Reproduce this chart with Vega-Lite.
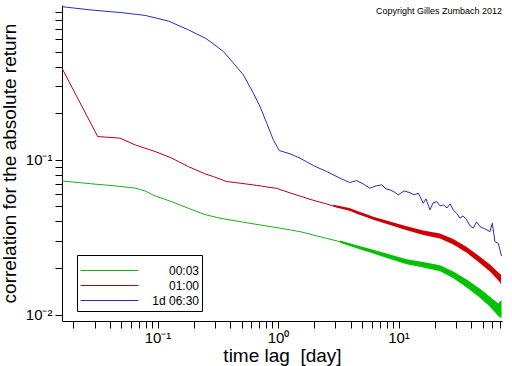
{
  "$schema": "https://vega.github.io/schema/vega-lite/v6.json",
  "autosize": "none",
  "padding": {"left": 62, "top": 5, "right": 10, "bottom": 45},
  "width": 440,
  "height": 316,
  "background": "white",
  "config": {
    "view": {"stroke": null},
    "font": "Liberation Sans",
    "axis": {"grid": false, "domainColor": "black", "tickColor": "black", "tickSize": 7, "labelColor": "black", "titleColor": "black", "labelFont": "Liberation Sans", "titleFont": "Liberation Sans", "labelFontSize": 15, "titleFontSize": 19, "titleFontWeight": "normal", "labelOverlap": false, "labelFlush": false}
  },
  "title": {"text": "Copyright Gilles Zumbach 2012", "anchor": "end", "frame": "group", "orient": "top", "offset": -11, "fontSize": 9, "font": "Liberation Sans", "fontWeight": "normal", "color": "black"},
  "datasets": {
    "curves": [
      {"series": "1d 06:30", "lag": 0.01612, "corr": 0.975},
      {"series": "1d 06:30", "lag": 0.02844, "corr": 0.928},
      {"series": "1d 06:30", "lag": 0.0505, "corr": 0.892},
      {"series": "1d 06:30", "lag": 0.0788, "corr": 0.857},
      {"series": "1d 06:30", "lag": 0.123, "corr": 0.788},
      {"series": "1d 06:30", "lag": 0.180, "corr": 0.692},
      {"series": "1d 06:30", "lag": 0.248, "corr": 0.612},
      {"series": "1d 06:30", "lag": 0.273, "corr": 0.582},
      {"series": "1d 06:30", "lag": 0.352, "corr": 0.501},
      {"series": "1d 06:30", "lag": 0.426, "corr": 0.422},
      {"series": "1d 06:30", "lag": 0.515, "corr": 0.354},
      {"series": "1d 06:30", "lag": 0.624, "corr": 0.270},
      {"series": "1d 06:30", "lag": 0.709, "corr": 0.221},
      {"series": "1d 06:30", "lag": 0.806, "corr": 0.1726},
      {"series": "1d 06:30", "lag": 0.914, "corr": 0.1347},
      {"series": "1d 06:30", "lag": 1.025, "corr": 0.1148},
      {"series": "1d 06:30", "lag": 1.258, "corr": 0.1094},
      {"series": "1d 06:30", "lag": 1.522, "corr": 0.1026},
      {"series": "1d 06:30", "lag": 1.963, "corr": 0.0919},
      {"series": "1d 06:30", "lag": 2.536, "corr": 0.0840},
      {"series": "1d 06:30", "lag": 3.27, "corr": 0.0762},
      {"series": "1d 06:30", "lag": 3.94, "corr": 0.0713},
      {"series": "1d 06:30", "lag": 4.50, "corr": 0.0735},
      {"series": "1d 06:30", "lag": 5.08, "corr": 0.0700},
      {"series": "1d 06:30", "lag": 5.80, "corr": 0.0656},
      {"series": "1d 06:30", "lag": 6.51, "corr": 0.0679},
      {"series": "1d 06:30", "lag": 7.25, "corr": 0.0689},
      {"series": "1d 06:30", "lag": 7.88, "corr": 0.0649},
      {"series": "1d 06:30", "lag": 8.50, "corr": 0.0640},
      {"series": "1d 06:30", "lag": 9.18, "corr": 0.0621},
      {"series": "1d 06:30", "lag": 9.96, "corr": 0.0594},
      {"series": "1d 06:30", "lag": 11.10, "corr": 0.0630},
      {"series": "1d 06:30", "lag": 12.46, "corr": 0.0614},
      {"series": "1d 06:30", "lag": 13.45, "corr": 0.0594},
      {"series": "1d 06:30", "lag": 14.60, "corr": 0.0609},
      {"series": "1d 06:30", "lag": 16.06, "corr": 0.0525},
      {"series": "1d 06:30", "lag": 16.91, "corr": 0.0560},
      {"series": "1d 06:30", "lag": 18.26, "corr": 0.0475},
      {"series": "1d 06:30", "lag": 19.33, "corr": 0.0527},
      {"series": "1d 06:30", "lag": 20.75, "corr": 0.0537},
      {"series": "1d 06:30", "lag": 22.10, "corr": 0.0504},
      {"series": "1d 06:30", "lag": 23.54, "corr": 0.0512},
      {"series": "1d 06:30", "lag": 25.27, "corr": 0.0489},
      {"series": "1d 06:30", "lag": 26.76, "corr": 0.0519},
      {"series": "1d 06:30", "lag": 28.50, "corr": 0.0475},
      {"series": "1d 06:30", "lag": 30.59, "corr": 0.0448},
      {"series": "1d 06:30", "lag": 32.38, "corr": 0.0420},
      {"series": "1d 06:30", "lag": 34.30, "corr": 0.0435},
      {"series": "1d 06:30", "lag": 36.81, "corr": 0.0409},
      {"series": "1d 06:30", "lag": 39.21, "corr": 0.0375},
      {"series": "1d 06:30", "lag": 41.76, "corr": 0.0362},
      {"series": "1d 06:30", "lag": 44.40, "corr": 0.0397},
      {"series": "1d 06:30", "lag": 47.47, "corr": 0.0371},
      {"series": "1d 06:30", "lag": 52.21, "corr": 0.0358},
      {"series": "1d 06:30", "lag": 57.44, "corr": 0.0344},
      {"series": "1d 06:30", "lag": 60.02, "corr": 0.0390},
      {"series": "1d 06:30", "lag": 63.2, "corr": 0.0296},
      {"series": "1d 06:30", "lag": 67.3, "corr": 0.0289},
      {"series": "1d 06:30", "lag": 71.6, "corr": 0.0239},

      {"series": "01:00", "lag": 0.01612, "corr": 0.3905},
      {"series": "01:00", "lag": 0.0319, "corr": 0.1414},
      {"series": "01:00", "lag": 0.04886, "corr": 0.1381},
      {"series": "01:00", "lag": 0.0651, "corr": 0.1250},
      {"series": "01:00", "lag": 0.0954, "corr": 0.1132},
      {"series": "01:00", "lag": 0.1312, "corr": 0.1026},
      {"series": "01:00", "lag": 0.180, "corr": 0.0905},
      {"series": "01:00", "lag": 0.248, "corr": 0.0812},
      {"series": "01:00", "lag": 0.2904, "corr": 0.0780},
      {"series": "01:00", "lag": 0.3753, "corr": 0.0724},
      {"series": "01:00", "lag": 0.4838, "corr": 0.0707},
      {"series": "01:00", "lag": 0.6656, "corr": 0.0684},
      {"series": "01:00", "lag": 0.9754, "corr": 0.0654},
      {"series": "01:00", "lag": 1.258, "corr": 0.0612},
      {"series": "01:00", "lag": 1.844, "corr": 0.0556},
      {"series": "01:00", "lag": 2.877, "corr": 0.0504},
      {"series": "01:00", "lag": 3.906, "corr": 0.0479},
      {"series": "01:00", "lag": 4.50, "corr": 0.0452},
      {"series": "01:00", "lag": 6.18, "corr": 0.0420},
      {"series": "01:00", "lag": 8.50, "corr": 0.0390},
      {"series": "01:00", "lag": 11.70, "corr": 0.0362},
      {"series": "01:00", "lag": 16.06, "corr": 0.0339},
      {"series": "01:00", "lag": 22.10, "corr": 0.0323},
      {"series": "01:00", "lag": 28.50, "corr": 0.0296},
      {"series": "01:00", "lag": 36.81, "corr": 0.0262},
      {"series": "01:00", "lag": 47.47, "corr": 0.0226},
      {"series": "01:00", "lag": 57.44, "corr": 0.0200},
      {"series": "01:00", "lag": 69.55, "corr": 0.0172},
      {"series": "01:00", "lag": 70.9, "corr": 0.0168},

      {"series": "00:03", "lag": 0.01612, "corr": 0.0731},
      {"series": "00:03", "lag": 0.02844, "corr": 0.0700},
      {"series": "00:03", "lag": 0.0444, "corr": 0.0679},
      {"series": "00:03", "lag": 0.0651, "corr": 0.0657},
      {"series": "00:03", "lag": 0.0788, "corr": 0.0630},
      {"series": "00:03", "lag": 0.0954, "corr": 0.0585},
      {"series": "00:03", "lag": 0.1312, "corr": 0.0537},
      {"series": "00:03", "lag": 0.180, "corr": 0.0487},
      {"series": "00:03", "lag": 0.248, "corr": 0.0443},
      {"series": "00:03", "lag": 0.3302, "corr": 0.0420},
      {"series": "00:03", "lag": 0.4838, "corr": 0.0399},
      {"series": "00:03", "lag": 0.709, "corr": 0.0380},
      {"series": "00:03", "lag": 1.039, "corr": 0.0362},
      {"series": "00:03", "lag": 1.522, "corr": 0.0344},
      {"series": "00:03", "lag": 2.231, "corr": 0.0319},
      {"series": "00:03", "lag": 3.27, "corr": 0.0296},
      {"series": "00:03", "lag": 4.50, "corr": 0.0275},
      {"series": "00:03", "lag": 6.18, "corr": 0.0255},
      {"series": "00:03", "lag": 8.50, "corr": 0.0237},
      {"series": "00:03", "lag": 11.70, "corr": 0.0220},
      {"series": "00:03", "lag": 16.06, "corr": 0.0210},
      {"series": "00:03", "lag": 22.10, "corr": 0.0200},
      {"series": "00:03", "lag": 28.50, "corr": 0.0181},
      {"series": "00:03", "lag": 36.81, "corr": 0.01596},
      {"series": "00:03", "lag": 47.47, "corr": 0.01375},
      {"series": "00:03", "lag": 57.44, "corr": 0.01213},
      {"series": "00:03", "lag": 67.3, "corr": 0.01072},
      {"series": "00:03", "lag": 71.6, "corr": 0.01026}
    ],
    "bands": [
      {"series": "01:00", "lag": 2.877, "lo": 0.0497, "hi": 0.0512},
      {"series": "01:00", "lag": 3.906, "lo": 0.0470, "hi": 0.0488},
      {"series": "01:00", "lag": 6.18, "lo": 0.0411, "hi": 0.0429},
      {"series": "01:00", "lag": 8.50, "lo": 0.0380, "hi": 0.0400},
      {"series": "01:00", "lag": 11.70, "lo": 0.0351, "hi": 0.0373},
      {"series": "01:00", "lag": 16.06, "lo": 0.0327, "hi": 0.0350},
      {"series": "01:00", "lag": 22.10, "lo": 0.0311, "hi": 0.0335},
      {"series": "01:00", "lag": 28.50, "lo": 0.0284, "hi": 0.0308},
      {"series": "01:00", "lag": 36.81, "lo": 0.0251, "hi": 0.0274},
      {"series": "01:00", "lag": 47.47, "lo": 0.0215, "hi": 0.0237},
      {"series": "01:00", "lag": 57.44, "lo": 0.0190, "hi": 0.0211},
      {"series": "01:00", "lag": 69.55, "lo": 0.0162, "hi": 0.0183},
      {"series": "01:00", "lag": 70.9, "lo": 0.0156, "hi": 0.0181},
      {"series": "00:03", "lag": 3.27, "lo": 0.0292, "hi": 0.0301},
      {"series": "00:03", "lag": 4.50, "lo": 0.0269, "hi": 0.0281},
      {"series": "00:03", "lag": 6.18, "lo": 0.0248, "hi": 0.0263},
      {"series": "00:03", "lag": 8.50, "lo": 0.0229, "hi": 0.0245},
      {"series": "00:03", "lag": 11.70, "lo": 0.0212, "hi": 0.0228},
      {"series": "00:03", "lag": 16.06, "lo": 0.0202, "hi": 0.0219},
      {"series": "00:03", "lag": 22.10, "lo": 0.0191, "hi": 0.0209},
      {"series": "00:03", "lag": 28.50, "lo": 0.0172, "hi": 0.0190},
      {"series": "00:03", "lag": 36.81, "lo": 0.0150, "hi": 0.0169},
      {"series": "00:03", "lag": 47.47, "lo": 0.01286, "hi": 0.0147},
      {"series": "00:03", "lag": 57.44, "lo": 0.01126, "hi": 0.01307},
      {"series": "00:03", "lag": 67.3, "lo": 0.0098, "hi": 0.0118},
      {"series": "00:03", "lag": 71.6, "lo": 0.0095, "hi": 0.0125}
    ]
  },
  "encoding": {
    "x": {"field": "lag", "type": "quantitative", "scale": {"type": "log", "domain": [0.01612, 72.26], "nice": false},
      "axis": {"title": "time lag \u00a0[day]", "titlePadding": 1, "labelPadding": 2,
        "values": [0.02,0.03,0.04,0.05,0.06,0.07,0.08,0.09,0.1,0.2,0.3,0.4,0.5,0.6,0.7,0.8,0.9,1,2,3,4,5,6,7,8,9,10,20,30,40,50,60,70],
        "labelExpr": "datum.value == 0.1 ? '10⁻¹' : datum.value == 1 ? '10⁰' : datum.value == 10 ? '10¹' : ''"}}
  },
  "layer": [
    {
      "data": {"name": "bands"},
      "transform": [{"filter": "datum.series == '00:03'"}],
      "mark": {"type": "area", "clip": true, "color": "#00c400"},
      "encoding": {
        "y": {"field": "lo", "type": "quantitative", "scale": {"type": "log", "domain": [0.009106, 1], "nice": false},
          "axis": {"title": "correlation for the absolute return", "titlePadding": 6, "labelPadding": 3,
            "values": [0.01,0.02,0.03,0.04,0.05,0.06,0.07,0.08,0.09,0.1,0.2,0.3,0.4,0.5,0.6,0.7,0.8,0.9],
            "labelExpr": "datum.value == 0.1 ? '10⁻¹' : datum.value == 0.01 ? '10⁻²' : ''"}},
        "y2": {"field": "hi"}
      }
    },
    {
      "data": {"name": "bands"},
      "transform": [{"filter": "datum.series == '01:00'"}],
      "mark": {"type": "area", "clip": true, "color": "#d40000"},
      "encoding": {
        "y": {"field": "lo", "type": "quantitative", "scale": {"type": "log", "domain": [0.009106, 1], "nice": false},
          "axis": {"title": "correlation for the absolute return", "titlePadding": 6, "labelPadding": 3,
            "values": [0.01,0.02,0.03,0.04,0.05,0.06,0.07,0.08,0.09,0.1,0.2,0.3,0.4,0.5,0.6,0.7,0.8,0.9],
            "labelExpr": "datum.value == 0.1 ? '10⁻¹' : datum.value == 0.01 ? '10⁻²' : ''"}},
        "y2": {"field": "hi"}
      }
    },
    {
      "data": {"name": "curves"},
      "mark": {"type": "line", "clip": true, "strokeWidth": 1},
      "encoding": {
        "y": {"field": "corr", "type": "quantitative", "scale": {"type": "log", "domain": [0.009106, 1], "nice": false},
          "axis": {"title": "correlation for the absolute return", "titlePadding": 6, "labelPadding": 3,
            "values": [0.01,0.02,0.03,0.04,0.05,0.06,0.07,0.08,0.09,0.1,0.2,0.3,0.4,0.5,0.6,0.7,0.8,0.9],
            "labelExpr": "datum.value == 0.1 ? '10⁻¹' : datum.value == 0.01 ? '10⁻²' : ''"}},
        "color": {"field": "series", "type": "nominal", "scale": {"domain": ["00:03", "01:00", "1d 06:30"], "range": ["#14b414", "#b80018", "#2b2bc0"]},
          "legend": {"title": " ", "titleFontSize": 5, "titlePadding": 0, "orient": "none", "legendX": 15, "legendY": 250, "direction": "vertical",
            "symbolType": "stroke", "symbolSize": 3364, "symbolStrokeWidth": 1, "rowPadding": 0, "clipHeight": 15,
            "labelAlign": "right", "labelOffset": 60, "labelFontSize": 12, "labelFont": "Liberation Sans", "labelColor": "black",
            "strokeColor": "black", "fillColor": "white", "padding": 3}}
      }
    }
  ]
}
